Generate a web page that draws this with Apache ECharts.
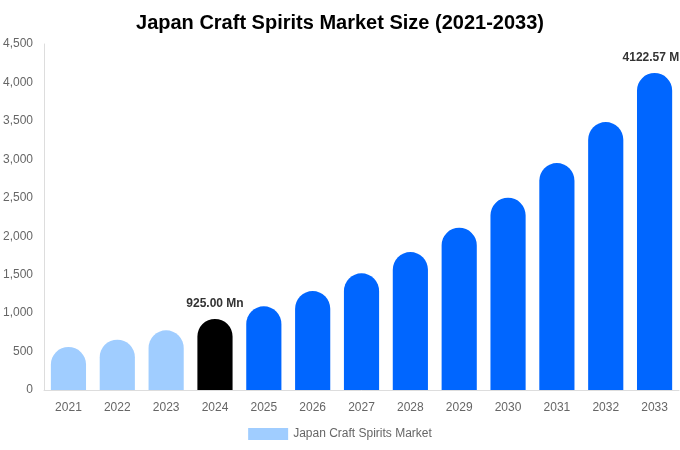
<!DOCTYPE html>
<html><head><meta charset="utf-8">
<script src="https://cdn.jsdelivr.net/npm/echarts@6/dist/echarts.min.js"></script>
<style>html,body{margin:0;padding:0;background:#fff}#c{width:680px;height:450px}</style>
</head><body><div id="c"></div>
<script>
const years = ['2021','2022','2023','2024','2025','2026','2027','2028','2029','2030','2031','2032','2033'];
const values = [559, 654, 776, 925.00, 1088, 1287, 1517, 1794, 2110, 2500, 2951, 3484, 4122.57];
const labeledYears = ['2024','2033'];
const seriesName = 'Japan Craft Spirits Market';
const colHist = '#A0CDFF', colBase = '#000000', colFcst = '#0066FF';

const chart = echarts.init(document.getElementById('c'));
chart.setOption({
  animation: false,
  title: { text: 'Japan Craft Spirits Market Size (2021-2033)', left: 'center', top: 8,
    textStyle: { fontFamily: 'Liberation Sans, Arial', fontSize: 20, fontWeight: 'bold', color: '#000' } },
  legend: { bottom: 5, left: 'center', itemWidth: 40, itemHeight: 12, icon: 'rect',
    textStyle: { fontFamily: 'Liberation Sans, Arial', fontSize: 12, color: '#666' },
    data: [{ name: seriesName, itemStyle: { color: colHist } }] },
  grid: { left: 44, right: 1, top: 44, bottom: 60 },
  xAxis: { type: 'category', data: years,
    axisLine: { lineStyle: { color: '#ddd' } }, axisTick: { show: false },
    axisLabel: { fontFamily: 'Liberation Sans, Arial', fontSize: 12, color: '#666', margin: 12 } },
  yAxis: { type: 'value', min: 0, max: 4500, interval: 500,
    axisLine: { show: true, lineStyle: { color: '#ddd' } }, splitLine: { show: false },
    axisLabel: { fontFamily: 'Liberation Sans, Arial', fontSize: 12, color: '#666', margin: 11,
      formatter: v => v.toLocaleString('en-US') } },
  series: [{
    name: seriesName, type: 'bar', barWidth: '72%',
    data: values.map((v, i) => {
      const y = +years[i];
      const color = y < 2024 ? colHist : (y === 2024 ? colBase : colFcst);
      const lab = labeledYears.includes(years[i]);
      return { value: v, itemStyle: { color, borderRadius: [18, 18, 0, 0] },
        label: { show: lab, position: 'top', distance: 9,
          formatter: p => p.value.toFixed(2) + ' Mn',
          fontFamily: 'Liberation Sans, Arial', fontSize: 12, fontWeight: 'bold', color: '#333' } };
    })
  }]
});
</script></body></html>
